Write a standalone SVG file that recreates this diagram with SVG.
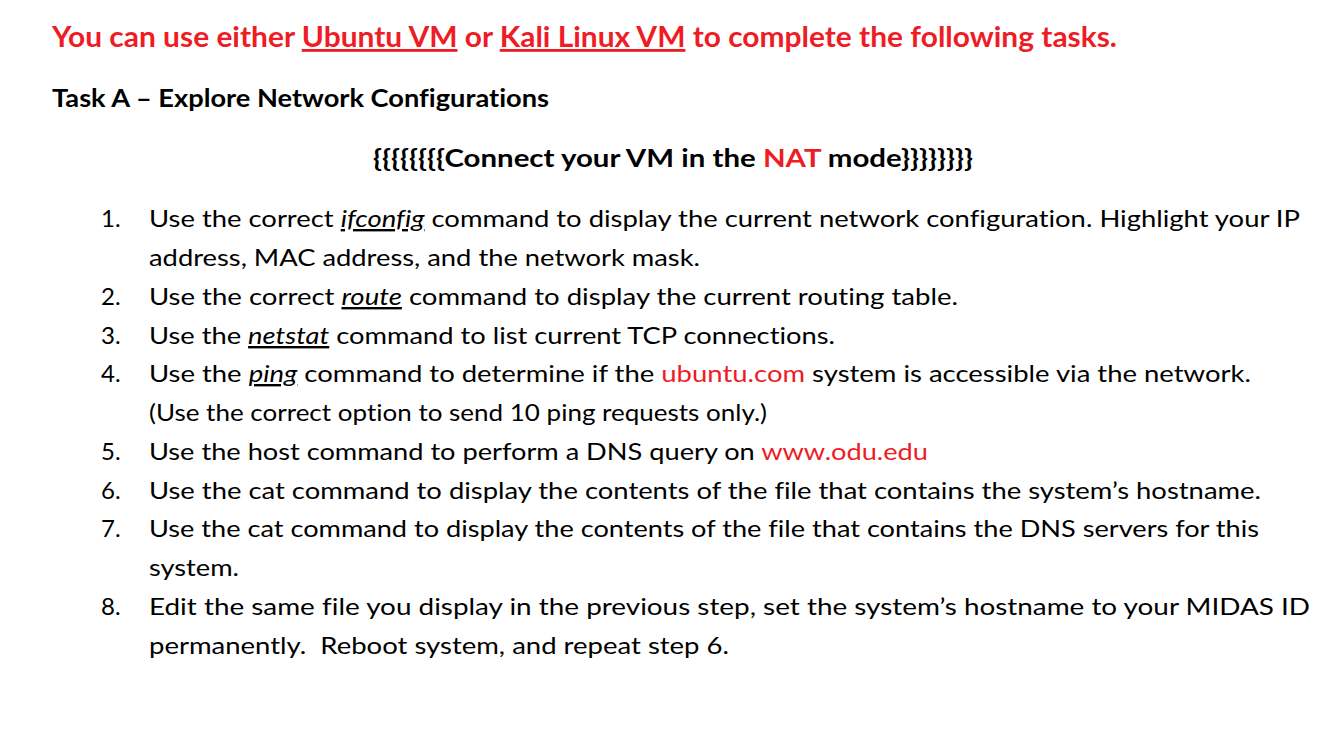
<svg xmlns="http://www.w3.org/2000/svg" width="1344" height="736" viewBox="0 0 1344 736">
<style>
text{font-family:Lato,"Open Sans","Liberation Sans",sans-serif;fill:#000;font-size:24px;font-variant-ligatures:none}
.b{font-weight:bold}
.r{fill:#ee1c25}
.u{text-decoration:underline}
.i{font-style:italic;text-decoration:underline}
</style>
<rect width="1344" height="736" fill="#fff"/>
<g id="header">
<text x="52" y="47" class="b r" style="font-size:28px" textLength="1065" lengthAdjust="spacingAndGlyphs">You can use either <tspan class="u">Ubuntu VM</tspan> or <tspan class="u">Kali Linux VM</tspan> to complete the following tasks.</text>
<text x="52" y="107" class="b" textLength="497" lengthAdjust="spacingAndGlyphs">Task A – Explore Network Configurations</text>
<text x="373" y="167" class="b" textLength="600" lengthAdjust="spacingAndGlyphs">{{{{{{{{Connect your VM in the <tspan class="r">NAT</tspan> mode}}}}}}}}</text>
</g>
<g id="list">
<text x="101" y="227">1.</text>
<text x="149" y="227" textLength="1151" lengthAdjust="spacingAndGlyphs">Use the correct <tspan class="i">ifconfig</tspan> command to display the current network configuration. Highlight your IP</text>
<text x="149" y="266" textLength="551" lengthAdjust="spacingAndGlyphs">address, MAC address, and the network mask.</text>
<text x="101" y="305">2.</text>
<text x="149" y="305" textLength="809" lengthAdjust="spacingAndGlyphs">Use the correct <tspan class="i">route</tspan> command to display the current routing table.</text>
<text x="101" y="344">3.</text>
<text x="149" y="344" textLength="686" lengthAdjust="spacingAndGlyphs">Use the <tspan class="i">netstat</tspan> command to list current TCP connections.</text>
<text x="101" y="382">4.</text>
<text x="149" y="382" textLength="1102" lengthAdjust="spacingAndGlyphs">Use the <tspan class="i">ping</tspan> command to determine if the <tspan class="r">ubuntu.com</tspan> system is accessible via the network.</text>
<text x="149" y="421" textLength="618" lengthAdjust="spacingAndGlyphs">(Use the correct option to send 10 ping requests only.)</text>
<text x="101" y="460">5.</text>
<text x="149" y="460" textLength="779" lengthAdjust="spacingAndGlyphs">Use the host command to perform a DNS query on <tspan class="r">www.odu.edu</tspan></text>
<text x="101" y="499">6.</text>
<text x="149" y="499" textLength="1112" lengthAdjust="spacingAndGlyphs">Use the cat command to display the contents of the file that contains the system’s hostname.</text>
<text x="101" y="537">7.</text>
<text x="149" y="537" textLength="1110" lengthAdjust="spacingAndGlyphs">Use the cat command to display the contents of the file that contains the DNS servers for this</text>
<text x="149" y="576" textLength="90" lengthAdjust="spacingAndGlyphs">system.</text>
<text x="101" y="615">8.</text>
<text x="149" y="615" textLength="1161" lengthAdjust="spacingAndGlyphs">Edit the same file you display in the previous step, set the system’s hostname to your MIDAS ID</text>
<text x="149" y="654" textLength="580" lengthAdjust="spacingAndGlyphs">permanently.&#160; Reboot system, and repeat step 6.</text>
</g>
</svg>
